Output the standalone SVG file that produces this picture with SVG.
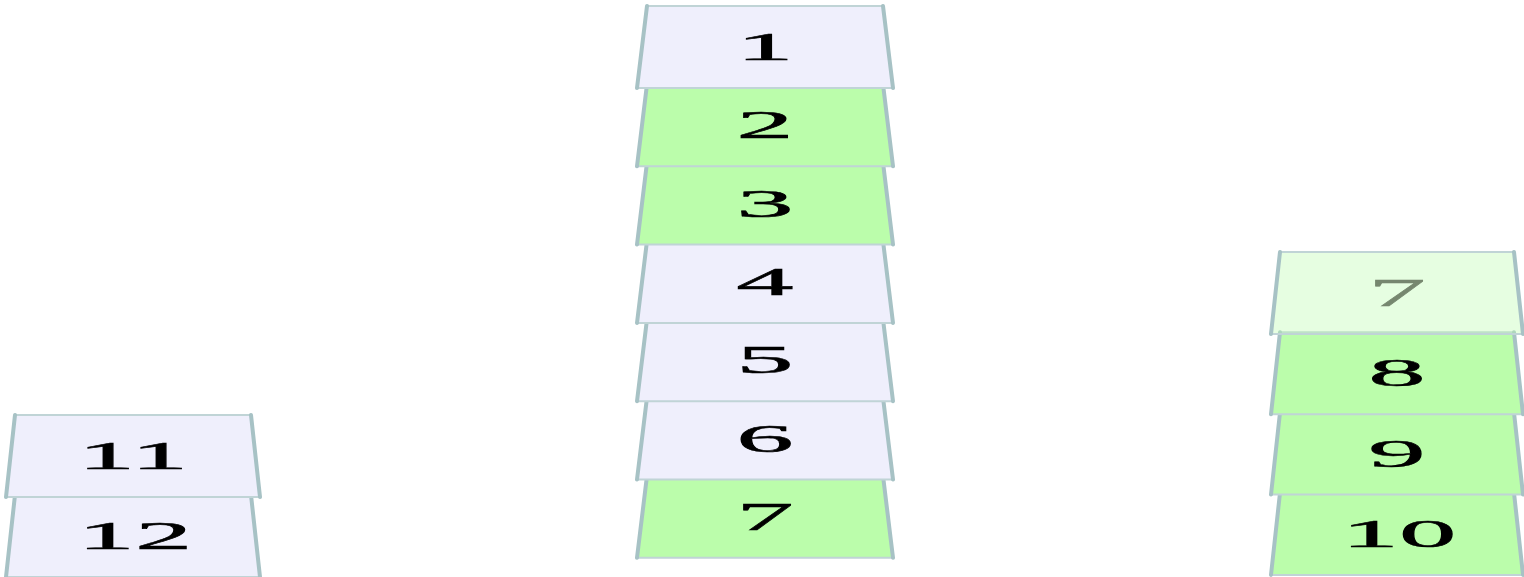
<svg xmlns="http://www.w3.org/2000/svg" width="1524" height="577" viewBox="0 0 1524 577">
<style>
.card{stroke:#c0d4d6;stroke-width:2;stroke-linejoin:round}
.lav{fill:#efeffc}
.grn{fill:#bbfdab}
.pale{fill:#bbfdab;fill-opacity:0.36}
.side{fill:none;stroke:#a7c2c5;stroke-width:4;stroke-linecap:round}
.num{font-family:"Liberation Serif","Times New Roman",serif;font-size:41px;fill:#000;stroke:#000;stroke-width:0.5;text-anchor:middle}
.fadetext{fill:#76876f;stroke:#76876f}
</style>
<rect width="1524" height="577" fill="#ffffff"/>
<g id="connectors"></g>
<!-- middle column, drawn bottom to top -->
<g id="m7"><polygon class="card grn" points="647,475.8 883,475.8 893,557.8 637,557.8"/><path class="side" d="M647,475.8 L637,557.8 M883,475.8 L893,557.8"/><text class="num" transform="translate(765,529.8) scale(2.8,1)">7</text></g>
<g id="m6"><polygon class="card lav" points="647,397.5 883,397.5 893,479.5 637,479.5"/><path class="side" d="M647,397.5 L637,479.5 M883,397.5 L893,479.5"/><text class="num" transform="translate(765,451.5) scale(2.8,1)">6</text></g>
<g id="m5"><polygon class="card lav" points="647,319.2 883,319.2 893,401.2 637,401.2"/><path class="side" d="M647,319.2 L637,401.2 M883,319.2 L893,401.2"/><text class="num" transform="translate(765,373.2) scale(2.8,1)">5</text></g>
<g id="m4"><polygon class="card lav" points="647,240.9 883,240.9 893,322.9 637,322.9"/><path class="side" d="M647,240.9 L637,322.9 M883,240.9 L893,322.9"/><text class="num" transform="translate(765,294.9) scale(2.8,1)">4</text></g>
<g id="m3"><polygon class="card grn" points="647,162.6 883,162.6 893,244.6 637,244.6"/><path class="side" d="M647,162.6 L637,244.6 M883,162.6 L893,244.6"/><text class="num" transform="translate(765,216.6) scale(2.8,1)">3</text></g>
<g id="m2"><polygon class="card grn" points="647,84.3 883,84.3 893,166.3 637,166.3"/><path class="side" d="M647,84.3 L637,166.3 M883,84.3 L893,166.3"/><text class="num" transform="translate(765,138.3) scale(2.8,1)">2</text></g>
<g id="m1"><polygon class="card lav" points="647,6 883,6 893,88 637,88"/><path class="side" d="M647,6 L637,88 M883,6 L893,88"/><text class="num" transform="translate(765,60) scale(2.8,1)">1</text></g>
<!-- right column -->
<g id="r10"><polygon class="card grn" points="1280,492.9 1514,492.9 1523,574.9 1271,574.9"/><path class="side" d="M1280,492.9 L1271,574.9 M1514,492.9 L1523,574.9"/><text class="num" transform="translate(1399,546.9) scale(2.8,1)">10</text></g>
<g id="r9"><polygon class="card grn" points="1280,412.6 1514,412.6 1523,494.6 1271,494.6"/><path class="side" d="M1280,412.6 L1271,494.6 M1514,412.6 L1523,494.6"/><text class="num" transform="translate(1397,466.6) scale(2.8,1)">9</text></g>
<g id="r8"><polygon class="card grn" points="1280,332.3 1514,332.3 1523,414.3 1271,414.3"/><path class="side" d="M1280,332.3 L1271,414.3 M1514,332.3 L1523,414.3"/><text class="num" transform="translate(1397,386.3) scale(2.8,1)">8</text></g>
<g id="r7"><polygon class="card pale" points="1280,252 1514,252 1523,334 1271,334"/><path class="side" d="M1280,252 L1271,334 M1514,252 L1523,334"/><text class="num fadetext" transform="translate(1397,306) scale(2.8,1)">7</text></g>
<!-- left column -->
<g id="l12"><polygon class="card lav" points="15,495 251,495 260,577 6,577"/><path class="side" d="M15,495 L6,577 M251,495 L260,577"/><text class="num" transform="translate(135,549) scale(2.8,1)">12</text></g>
<g id="l11"><polygon class="card lav" points="15,415 251,415 260,497 6,497"/><path class="side" d="M15,415 L6,497 M251,415 L260,497"/><text class="num" transform="translate(133,469) scale(2.8,1)">11</text></g>
</svg>
